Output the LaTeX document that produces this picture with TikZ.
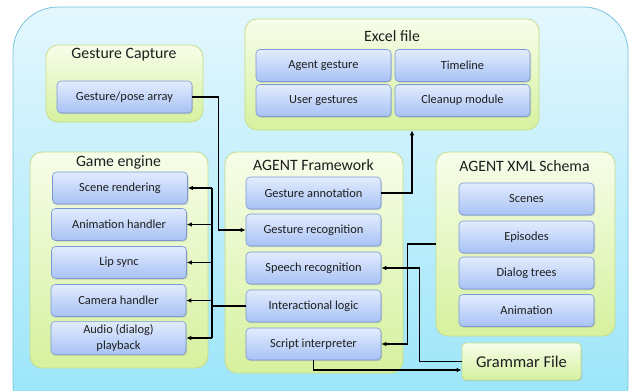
\documentclass[tikz,border=0pt]{standalone}
\usepackage{fontspec}
\setmainfont{Carlito}
\usetikzlibrary{shadows,arrows.meta}

\definecolor{outtop}{RGB}{228,247,253}
\definecolor{outbot}{RGB}{150,228,249}
\definecolor{outedge}{RGB}{120,196,222}
\definecolor{grptop}{RGB}{247,253,234}
\definecolor{grpbot}{RGB}{214,241,158}
\definecolor{grpedge}{RGB}{196,222,138}
\definecolor{itmtop}{RGB}{226,236,253}
\definecolor{itmbot}{RGB}{168,194,245}
\definecolor{itmedge}{RGB}{122,152,214}
\definecolor{txt}{RGB}{30,30,30}

\tikzset{
  group/.style={draw=grpedge, line width=0.8pt, rounded corners=12pt, top color=grptop, bottom color=grpbot},
  grouptitle/.style={font=\fontsize{15.8}{18}\selectfont, text=txt},
  item/.style={draw=itmedge, line width=0.6pt, rounded corners=4pt, top color=itmtop, bottom color=itmbot,
    minimum width=135pt, minimum height=32pt, align=center, text=txt, font=\fontsize{12.4}{15.5}\selectfont,
    drop shadow={opacity=0.3, shadow xshift=1pt, shadow yshift=-1.2pt}},
  conn/.style={line width=1.2pt, black}
}

\begin{document}
\begin{tikzpicture}[x=1pt, y=-1pt, >={Latex[length=5pt,width=4.5pt]}]
\clip (0,0) rectangle (630,391);
\path[draw=outedge, line width=0.8pt, rounded corners=45pt, top color=outtop, bottom color=outbot] (13,7) rectangle (628,430);

% Gesture Capture
\node[group, minimum width=157pt, minimum height=77pt] (capture) at (124.5,83.5) {};
\node[grouptitle] (capturet) at (124,55) {Gesture Capture};
\node[item] (gpa) at (124.5,97) {Gesture/pose array};

% Excel file
\node[group, minimum width=294pt, minimum height=111pt] (excel) at (392,74.5) {};
\node[grouptitle] (excelt) at (392,36) {Excel file};
\node[item] (agest) at (323.5,65.5) {Agent gesture};
\node[item] (timeline) at (462.5,65.5) {Timeline};
\node[item] (ugest) at (323.5,100.5) {User gestures};
\node[item] (cleanup) at (462.5,100.5) {Cleanup module};

% Game engine
\node[group, minimum width=178pt, minimum height=216pt] (game) at (119,260) {};
\node[grouptitle] (gamet) at (118.5,162) {Game engine};
\node[item] (srend) at (120,188) {Scene rendering};
\node[item] (anim) at (119,224.5) {Animation handler};
\node[item] (lips) at (119,262.5) {Lip sync};
\node[item] (cam) at (118.5,300.5) {Camera handler};
\node[item] (audio) at (118.5,338) {Audio (dialog)\\playback};

% AGENT Framework
\node[group, minimum width=178pt, minimum height=221pt] (agent) at (314,262.5) {};
\node[grouptitle] (agentt) at (313.5,165) {AGENT Framework};
\node[item] (gann) at (313.5,193) {Gesture annotation};
\node[item] (grec) at (313.5,230) {Gesture recognition};
\node[item] (speech) at (313.5,268) {Speech recognition};
\node[item] (ilog) at (313.5,306) {Interactional logic};
\node[item] (script) at (313.5,344) {Script interpreter};

% AGENT XML Schema
\node[group, minimum width=179pt, minimum height=184pt] (xml) at (525.5,244) {};
\node[grouptitle] (xmlt) at (524.5,166) {AGENT XML Schema};
\node[item] (scenes) at (526.5,199) {Scenes};
\node[item] (episodes) at (526.5,237) {Episodes};
\node[item] (dialog) at (526.5,273) {Dialog trees};
\node[item] (xanim) at (526.5,310.5) {Animation};

% Grammar File
\node[draw=grpedge, line width=0.8pt, rounded corners=4pt, top color=grptop, bottom color=grpbot,
  minimum width=119pt, minimum height=37pt, text=txt, font=\fontsize{16.5}{18}\selectfont,
  drop shadow={opacity=0.25, shadow xshift=1pt, shadow yshift=-1.2pt}] (grammar) at (521.5,361.5) {Grammar File};

% connectors
\draw[conn, ->] (gpa.east) -- ++(26,0) |- (grec.west);
\draw[conn, ->] (gann.east) -| ([xshift=20pt]excel.south);
\coordinate (bus) at (212,306);
\draw[conn] (ilog.west) -- (bus);
\draw[conn] (bus |- srend) -- (bus |- audio);
\foreach \n in {srend,anim,lips,cam,audio}
  \draw[conn, ->] (bus |- \n) -- (\n.east);
\draw[conn, ->] (xml.west) -- ++(-28,0) |- (script.east);
\draw[conn, ->] (grammar.west) -- ++(-42,0) |- (speech.east);
\draw[conn, ->] (script.south) |- ([yshift=-8.5pt]grammar.west);
\end{tikzpicture}
\end{document}
